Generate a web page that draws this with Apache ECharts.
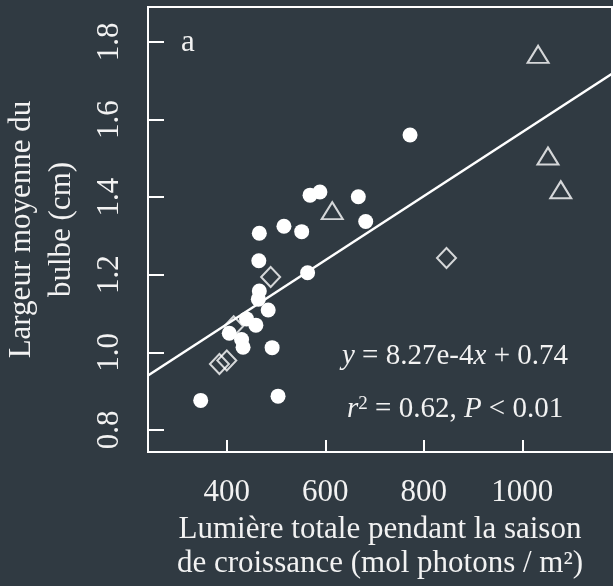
<!DOCTYPE html>
<html>
<head>
<meta charset="utf-8">
<script src="https://cdn.jsdelivr.net/npm/echarts@6/dist/echarts.min.js"></script>
<style>
  html, body { margin: 0; padding: 0; background: #303a42; }
  #chart { width: 613px; height: 586px; }
</style>
</head>
<body>
<div id="chart"></div>
<script>
// valeurs (lumière totale, largeur du bulbe)
var circleX = [772, 569, 589, 667, 682, 516, 466, 552, 465, 564, 466, 464, 484, 440, 459, 405, 430, 433, 492, 347, 504];
var circleY = [1.560, 1.405, 1.413, 1.401, 1.337, 1.325, 1.307, 1.311, 1.236, 1.205, 1.158, 1.137, 1.109, 1.086, 1.070, 1.049, 1.033, 1.013, 1.012, 0.876, 0.887];
var diamondX = [489, 414, 385, 400, 846];
var diamondY = [1.194, 1.067, 0.970, 0.979, 1.243];
var triangleX = [614, 1032, 1052, 1078];
var triangleY = [1.365, 1.768, 1.506, 1.419];
// droite de régression (extrémités)
var fitX = [240, 1182];
var fitY = [0.94, 1.718];
var xTicks = [400, 600, 800, 1000];
var yTicks = [0.8, 1.0, 1.2, 1.4, 1.6, 1.8];

var bg = '#303a42';
var fg = '#f2f2f2';
var mark = '#ffffff';
var serif = '"Liberation Serif", "DejaVu Serif", serif';

function pairs(xs, ys) {
    var out = [];
    for (var i = 0; i < xs.length; i++) {
        out.push([xs[i], ys[i]]);
    }
    return out;
}

var myChart = echarts.init(document.getElementById('chart'));

myChart.setOption({
    backgroundColor: bg,
    animation: false,
    textStyle: { fontFamily: serif, color: fg },
    grid: {
        left: 148, top: 7, right: 1, bottom: 134,
        outerBoundsMode: 'none',
        containLabel: false,
        show: true, borderColor: mark, borderWidth: 2,
        backgroundColor: 'transparent'
    },
    xAxis: {
        type: 'value',
        min: 240, max: 1182,
        name: 'Lumière totale pendant la saison\nde croissance (mol photons / m²)',
        nameLocation: 'middle',
        nameGap: 54,
        nameTextStyle: { fontFamily: serif, fontSize: 31, color: fg, lineHeight: 34 },
        axisLine: { show: false },
        splitLine: { show: false },
        axisTick: { show: true, inside: true, length: 12, customValues: xTicks, lineStyle: { color: mark, width: 2 } },
        axisLabel: {
            show: true, customValues: xTicks, margin: 25, fontSize: 31, color: fg, fontFamily: serif,
            formatter: function (v) { return String(v); }
        }
    },
    yAxis: {
        type: 'value',
        min: 0.743, max: 1.89,
        name: 'Largeur moyenne du\nbulbe (cm)',
        nameLocation: 'middle',
        nameGap: 66,
        nameTextStyle: { fontFamily: serif, fontSize: 31, color: fg, lineHeight: 40 },
        axisLine: { show: false },
        splitLine: { show: false },
        axisTick: { show: true, inside: true, length: 16, customValues: yTicks, lineStyle: { color: mark, width: 2 } },
        axisLabel: {
            show: true, customValues: yTicks, margin: 23, rotate: 90,
            fontSize: 31, color: fg, fontFamily: serif,
            formatter: function (v) { return v.toFixed(1); }
        }
    },
    graphic: [
        {
            type: 'text', left: 181, top: 27,
            style: { text: 'a', fill: fg, font: '31px ' + serif }
        },
        {
            type: 'text', left: 342, top: 342,
            style: {
                text: '{i|y} = 8.27e-4{i|x} + 0.74',
                fill: fg, font: '29px ' + serif,
                rich: { i: { fontStyle: 'italic', fontSize: 29, fontFamily: serif, fill: fg } }
            }
        },
        {
            type: 'text', left: 347, top: 395,
            style: {
                text: '{i|r}{s|2} = 0.62, {i|P} < 0.01',
                fill: fg, font: '29px ' + serif,
                rich: {
                    i: { fontStyle: 'italic', fontSize: 29, fontFamily: serif, fill: fg },
                    s: { fontSize: 19, fontFamily: serif, fill: fg, verticalAlign: 'top' }
                }
            }
        }
    ],
    series: [
        {
            type: 'line',
            data: pairs(fitX, fitY),
            symbol: 'none',
            lineStyle: { color: mark, width: 2.5 },
            silent: true
        },
        {
            type: 'scatter',
            data: pairs(diamondX, diamondY),
            symbol: 'diamond',
            symbolSize: [19, 20],
            itemStyle: { color: 'transparent', borderColor: mark, borderWidth: 2 }
        },
        {
            type: 'scatter',
            data: pairs(triangleX, triangleY),
            symbol: 'triangle',
            symbolSize: [21, 17],
            itemStyle: { color: 'transparent', borderColor: mark, borderWidth: 2 }
        },
        {
            type: 'scatter',
            data: pairs(circleX, circleY),
            symbol: 'circle',
            symbolSize: 15,
            itemStyle: { color: mark, opacity: 1 }
        }
    ]
});
</script>
</body>
</html>
